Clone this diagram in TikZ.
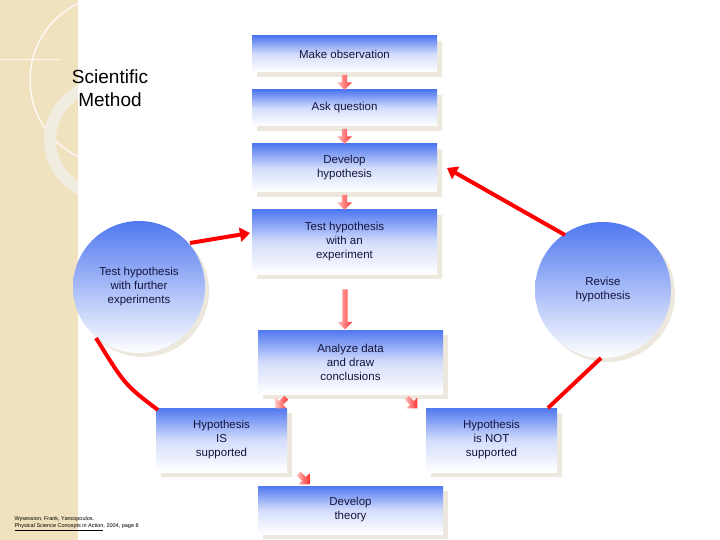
\documentclass[tikz,border=0pt]{standalone}
\usepackage{fontspec}
\setmainfont{Liberation Sans}
\usetikzlibrary{shapes.arrows,arrows.meta,shadows}
\definecolor{bblue}{RGB}{80,120,240}
\definecolor{shad}{RGB}{236,232,222}
\definecolor{beige}{RGB}{240,226,190}
\definecolor{txt}{RGB}{20,20,60}
\tikzset{
 box/.style={rectangle,minimum width=185pt,top color=bblue,bottom color=white,middle color=bblue!25,
   shading angle=0,align=center,font=\fontsize{11.5}{14}\selectfont,text=txt,inner sep=2pt,
   drop shadow={shadow xshift=5pt,shadow yshift=-5pt,fill=shad,opacity=1}},
 circ/.style={circle,minimum size=132pt,top color=bblue,bottom color=white,align=center,
   font=\fontsize{11.5}{14}\selectfont,text=txt,inner sep=0pt,
   drop shadow={shadow xshift=4pt,shadow yshift=-4pt,fill=shad,opacity=1}},
 fat/.style={single arrow,minimum height=15pt,minimum width=15pt,single arrow head extend=3pt,
   inner sep=1.5pt,left color=red!25,right color=red!80,draw=none},
 thin/.style={line width=4pt,red,-{Triangle[length=10pt,width=14pt]}},
}
\begin{document}
\begin{tikzpicture}[x=1pt,y=-1pt]
\useasboundingbox (0,0) rectangle (720,540);
\fill[beige] (0,0) rectangle (78,540);
\begin{scope}
\clip (0,0) rectangle (78,540);
\draw[white!80!beige,line width=1.5pt] (115,80) circle (85);
\draw[beige!80!gray!40,line width=12pt] (105,140) circle (55);
\draw[white!70!beige,line width=1pt] (0,60) -- (60,60);
\end{scope}
\node[font=\fontsize{19}{23}\selectfont,align=center] (title) at (110,88) {Scientific\\Method};

\node[box,minimum height=36pt] (obs) at (344.5,54) {Make observation};
\node[box,minimum height=36pt] (ask) at (344.5,108) {Ask question};
\node[box,minimum height=48pt] (dev) at (344.5,168) {Develop\\hypothesis};
\node[box,minimum height=64pt] (test) at (344.5,242) {Test hypothesis\\with an\\experiment};
\node[box,minimum height=64pt] (ana) at (350.5,362) {Analyze data\\and draw\\conclusions};
\node[box,minimum width=131pt,minimum height=64pt] (is) at (221.5,440) {Hypothesis\\IS\\supported};
\node[box,minimum width=131pt,minimum height=64pt] (not) at (491.5,440) {Hypothesis\\is NOT\\supported};
\node[box,minimum height=48pt] (thy) at (350.5,510) {Develop\\theory};
\node[circ] (further) at (139,287) {Test hypothesis\\with further\\experiments};
\node[circ,minimum size=136pt] (rev) at (603,290) {Revise\\hypothesis};

\node[fat,rotate=-90] (a1) at (344.5,81) {};
\node[fat,rotate=-90] (a2) at (344.5,135) {};
\node[fat,rotate=-90] (a3) at (344.5,201) {};
\node[fat,rotate=-90,minimum height=40pt] (a4) at (345,308) {};
\node[fat,rotate=-135] (a5) at (282,402) {};
\node[fat,rotate=-45] (a6) at (411,402) {};
\node[fat,rotate=-45] (a7) at (303,478) {};

\coordinate (p1) at (190,243);
\coordinate (p2) at (250,233);
\coordinate (p3) at (565,235);
\coordinate (p4) at (447,168);
\coordinate (p5) at (158,410);
\coordinate (p6) at (96,338);
\coordinate (p7) at (548,408);
\coordinate (p8) at (601,358);
\draw[thin] (p1) -- (p2);
\draw[thin] (p3) -- (p4);
\draw[line width=4pt,red] (p5) .. controls (125,385) .. (p6);
\draw[line width=4pt,red] (p7) -- (p8);

\node[font=\fontsize{5.5}{7}\selectfont,align=left,anchor=north west] (cite) at (11,513)
 {Wysession, Frank, Yancopoulos.\\\underline{Physical Science Concepts in Action}, 2004, page 8};
\end{tikzpicture}
\end{document}
